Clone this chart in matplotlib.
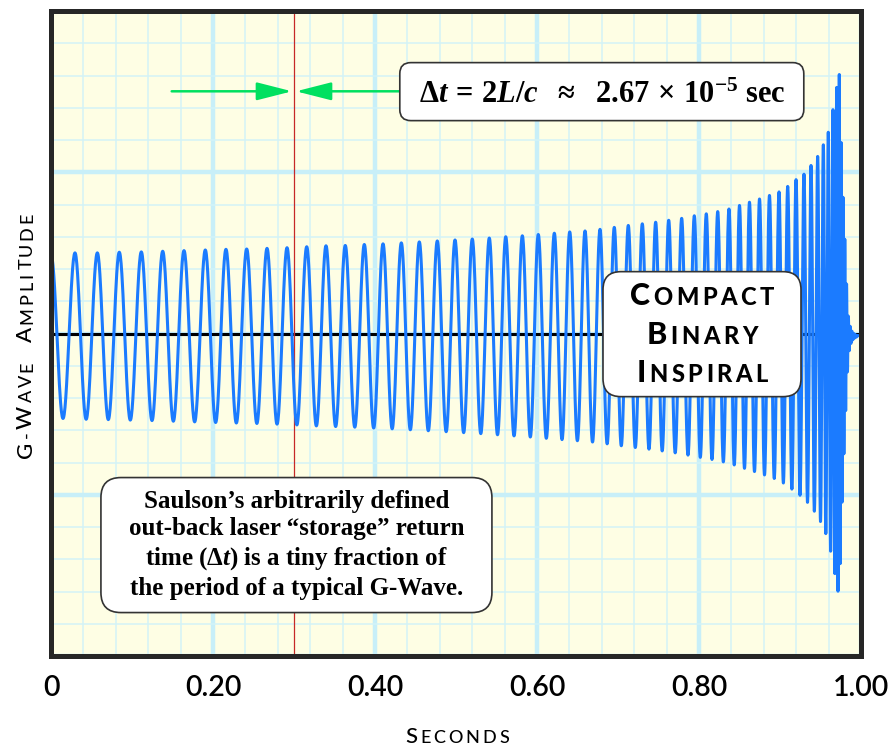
import numpy as np
import matplotlib
matplotlib.use('Agg')
import matplotlib.pyplot as plt
from matplotlib.patches import FancyBboxPatch
from matplotlib.transforms import IdentityTransform

plt.rcParams['mathtext.fontset'] = 'custom'
plt.rcParams['mathtext.rm'] = 'Liberation Serif:bold'
plt.rcParams['mathtext.it'] = 'Liberation Serif:italic:bold'
plt.rcParams['mathtext.bf'] = 'Liberation Serif:bold'

# times (s) of the chirp's crests
peak_t = [0.0000, 0.0296, 0.0572, 0.0843, 0.1115, 0.1379, 0.1642, 0.1905, 0.2160,
          0.2416, 0.2667, 0.2914, 0.3157, 0.3395, 0.3633, 0.3868, 0.4099, 0.4325,
          0.4547, 0.4769, 0.4988, 0.5201, 0.5411, 0.5614, 0.5819, 0.6016, 0.6214,
          0.6404, 0.6593, 0.6778, 0.6954, 0.7127, 0.7300, 0.7465, 0.7626, 0.7786,
          0.7942, 0.8090, 0.8231, 0.8370, 0.8500, 0.8623, 0.8747, 0.8870, 0.8988,
          0.9095, 0.9198, 0.9296, 0.9383, 0.9465, 0.9535, 0.9596, 0.9654, 0.9700,
          0.9732, 0.9755, 0.9778, 0.9800, 0.9822, 0.9844, 0.9866, 0.9888, 0.9910,
          0.9932, 0.9954]
# crest amplitudes (grid units)
peak_amp = [2.53, 2.58, 2.58, 2.60, 2.61, 2.63, 2.65, 2.67, 2.69,
            2.70, 2.72, 2.74, 2.77, 2.80, 2.81, 2.84, 2.86, 2.89,
            2.92, 2.95, 2.98, 3.01, 3.04, 3.08, 3.11, 3.15, 3.19,
            3.23, 3.26, 3.31, 3.37, 3.43, 3.48, 3.53, 3.59, 3.65,
            3.73, 3.79, 3.86, 3.94, 4.05, 4.15, 4.25, 4.36, 4.47,
            4.64, 4.85, 5.02, 5.29, 5.57, 5.93, 6.32, 7.02, 7.71,
            8.11, 6.00, 4.30, 3.00, 1.60, 0.60, 0.30, 0.15, 0.08,
            0.04, 0.02]
wave_offset = -0.08
end_t = 1.0

x_ticks = [0, 0.2, 0.4, 0.6, 0.8, 1.0]
x_ticklabels = ['0', '0.20', '0.40', '0.60', '0.80', '1.00']
delta_t_line = 0.30

# build the wave crest to crest
t_parts, y_parts = [], []
for i in range(len(peak_t) - 1):
    frac = np.linspace(0, 1, 60, endpoint=False)
    t_parts.append(peak_t[i] + frac * (peak_t[i + 1] - peak_t[i]))
    amp = peak_amp[i] + frac * (peak_amp[i + 1] - peak_amp[i])
    y_parts.append(wave_offset + amp * np.cos(2 * np.pi * frac))
t_parts.append(np.array([peak_t[-1], end_t]))
y_parts.append(np.array([wave_offset + peak_amp[-1], wave_offset]))
wave_t = np.concatenate(t_parts)
wave_y = np.concatenate(y_parts)

W, H = 888, 746
fig = plt.figure(figsize=(W / 100, H / 100), dpi=100)
ax = fig.add_axes([51 / W, 1 - 656 / H, 810 / W, 645 / H])
ax.set_facecolor('#FEFEE4')
ax.set_xlim(0, 1)
ax.set_ylim(-10, 10)

ax.set_xticks(x_ticks)
ax.set_xticks(np.arange(0, 1.001, 0.04), minor=True)
ax.set_yticks([-10, -5, 0, 5, 10])
ax.set_yticks(np.arange(-10, 11, 1), minor=True)
ax.grid(which='minor', color='#D3F3F7', lw=1.1)
ax.grid(which='major', color='#C8EFF8', lw=3.2)
ax.set_axisbelow(True)
ax.set_xticklabels(x_ticklabels, fontsize=20.5, family='Lato', weight='semibold')
ax.set_yticklabels([])
ax.tick_params(which='both', length=0)
ax.tick_params(axis='x', pad=13.5)
for sp in ax.spines.values():
    sp.set_linewidth(3.6)
    sp.set_color('#262626')
    sp.set_zorder(10)

ax.axhline(0, color='black', lw=2.2, zorder=2)
ax.axvline(delta_t_line, color='#C62828', lw=0.9, zorder=2.5)
ax.plot(wave_t, wave_y, color='#1B7BFF', lw=2.2, zorder=3, solid_joinstyle='round')

arrow_kw = dict(arrowstyle='-|>,head_length=21.6,head_width=5.5', mutation_scale=1,
                color='#00E060', lw=1.8, shrinkA=0, shrinkB=0)
ax.annotate('', xy=(0.2975, 7.51), xytext=(0.149, 7.51), arrowprops=arrow_kw, zorder=4)
ax.annotate('', xy=(0.3025, 7.51), xytext=(0.431, 7.51), arrowprops=arrow_kw, zorder=4)

fig.canvas.draw()
renderer = fig.canvas.get_renderer()


def to_px(x, y):
    return ax.transData.transform((x, y))


def round_box(cx, cy, w, h, r):
    px, py = to_px(cx, cy)
    box = FancyBboxPatch((px - w / 2, py - h / 2), w, h,
                         boxstyle=f'round,pad=0,rounding_size={r}',
                         transform=IdentityTransform(), fc='white', ec='#333333',
                         lw=1.2, zorder=6)
    ax.add_patch(box)
    box.set_clip_on(False)


def small_caps(text, x, y, big, small, rot=0, weight='normal', family='Lato', track=0):
    # small caps drawn letter by letter, centred at x (y if rotated), baseline at y (x)
    chars = []
    for ch in text:
        if ch == ' ':
            chars.append(('', 0.3 * small * 100 / 72))
            continue
        size = big if ch.isupper() else small
        tmp = fig.text(0, 0, ch.upper(), fontsize=size, family=family, weight=weight)
        chars.append((ch.upper(), size, tmp.get_window_extent(renderer).width))
        tmp.remove()
    total = sum(c[-1] for c in chars) + track * (len(chars) - 1)
    pos = (x if rot == 0 else y) - total / 2
    for c in chars:
        if c[0]:
            xy = (pos, y) if rot == 0 else (x, pos)
            fig.text(xy[0], xy[1], c[0], fontsize=c[1], family=family, weight=weight,
                     ha='left', va='baseline', rotation=rot, rotation_mode='anchor',
                     transform=IdentityTransform(), zorder=8)
        pos += c[-1] + track


# top formula box
round_box(0.680, 7.50, 404, 58, 11)
ax.text(0.681, 7.40,
        r'$\Delta t\,=\,2L/c\ \ \approx\ \ 2.67\,\times\,10^{-5}\ \mathrm{sec}$',
        ha='center', va='center', fontsize=22, zorder=7)

# bottom note
round_box(0.303, -6.56, 391, 135, 20)
ax.text(0.303, -6.55,
        'Saulson\u2019s arbitrarily defined\nout-back laser \u201cstorage\u201d return\n'
        r'time ($\Delta t$) is a tiny fraction of' '\nthe period of a typical G-Wave.',
        ha='center', va='center', multialignment='center', fontsize=18,
        family='Liberation Serif', weight='bold', linespacing=1.25, zorder=7)

# compact binary inspiral label
round_box(0.8037, -0.02, 198, 125, 18)
cx, cy = to_px(0.8037, -0.02)
for word, dy in zip(['Compact', 'Binary', 'Inspiral'], [28.8, -9.8, -47.8]):
    small_caps(word, cx, cy + dy, 22, 17, weight='black', track=3.5)

# axis labels
small_caps('Seconds', 457, H - 743, 16, 13, weight='medium', track=3)
small_caps('G-Wave  Amplitude', 32, H - 335, 16, 13, rot=90, weight='medium', track=3)

fig.savefig('out.png', dpi=100)
